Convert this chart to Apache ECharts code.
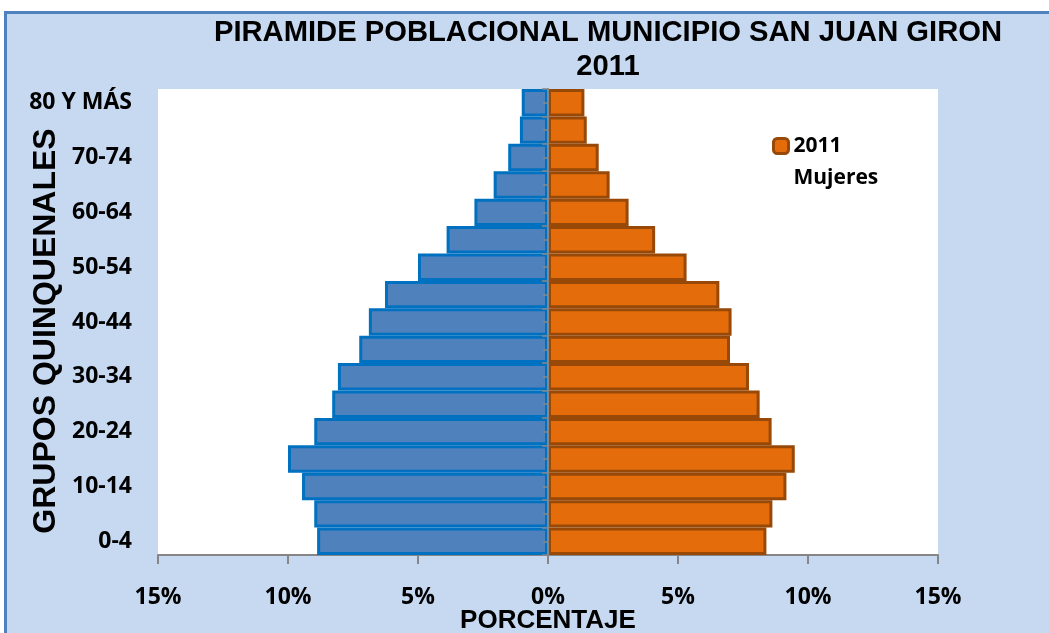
<!DOCTYPE html>
<html>
<head>
<meta charset="utf-8">
<script src="https://cdn.jsdelivr.net/npm/echarts@6/dist/echarts.min.js"></script>
<style>
html,body{margin:0;padding:0;background:#fff;}
#chart{width:1049px;height:633px;}
</style>
</head>
<body>
<div id="chart"></div>
<script>
const categories = ['0-4','5-9','10-14','15-19','20-24','25-29','30-34','35-39','40-44','45-49','50-54','55-59','60-64','65-69','70-74','75-79','80 Y MÁS'];
const hombres = [8.88, 8.99, 9.46, 10.0, 8.99, 8.3, 8.08, 7.26, 6.89, 6.27, 5.0, 3.9, 2.83, 2.09, 1.53, 1.08, 1.01];
const mujeres = [8.4, 8.63, 9.17, 9.49, 8.6, 8.14, 7.73, 7.0, 7.06, 6.59, 5.33, 4.12, 3.1, 2.37, 1.95, 1.49, 1.4];
const xTicks = { min: -15, max: 15, interval: 5 };

const chart = echarts.init(document.getElementById('chart'));
const labelFont = { fontFamily: 'Open Sans', fontWeight: 'bold', fontSize: 23, color: '#000' };
chart.setOption({
  backgroundColor: '#fff',
  animation: false,
  graphic: [{
    type: 'rect', z: -100,
    shape: { x: 5.5, y: 12.5, width: 1100, height: 700 },
    style: { fill: '#C6D9F1', stroke: '#4F81BD', lineWidth: 3 }
  }],
  title: {
    text: 'PIRAMIDE POBLACIONAL MUNICIPIO SAN JUAN GIRON\n2011',
    left: 608, top: 16, padding: 0, textAlign: 'center',
    textStyle: { fontFamily: 'Liberation Sans', fontWeight: 'bold', fontSize: 29.2, lineHeight: 34, color: '#000' }
  },
  legend: {
    data: ['2011 Mujeres'],
    left: 772, top: 98, padding: 0,
    itemWidth: 15, itemHeight: 15,
    itemStyle: { color: '#E46C0A', borderColor: '#984807', borderWidth: 3 },
    formatter: function () { return '\n2011\nMujeres'; },
    textStyle: { fontFamily: 'Open Sans', fontWeight: 'bold', fontSize: 21, lineHeight: 32, color: '#000' }
  },
  grid: { left: 158, right: 111, top: 89, bottom: 78, outerBoundsMode: 'none', containLabel: false, show: true, backgroundColor: '#fff', borderWidth: 0 },
  xAxis: {
    type: 'value', min: xTicks.min, max: xTicks.max, interval: xTicks.interval,
    axisLine: { show: true, lineStyle: { color: '#868686', width: 2 } },
    axisTick: { show: true, length: 9, lineStyle: { color: '#868686', width: 2 } },
    splitLine: { show: false },
    axisLabel: Object.assign({ margin: 31, formatter: v => Math.abs(v) + '%' }, labelFont),
    name: 'PORCENTAJE', nameLocation: 'middle', nameGap: 53, nameMoveOverlap: false,
    nameTextStyle: { fontFamily: 'Liberation Sans', fontWeight: 'bold', fontSize: 26, color: '#000' }
  },
  yAxis: [{
    type: 'category', data: categories,
    axisLine: { show: false }, axisTick: { show: false },
    axisLabel: Object.assign({ interval: 1, margin: 26 }, labelFont),
    name: 'GRUPOS QUINQUENALES', nameLocation: 'middle', nameRotate: 90, nameGap: 96, nameMoveOverlap: false,
    nameTextStyle: { fontFamily: 'Liberation Sans', fontWeight: 'bold', fontSize: 32, color: '#000', padding: [0, 18, 0, 0] }
  }, {
    type: 'category', data: categories, position: 'left', offset: -390, z: 10,
    axisLine: { show: true, lineStyle: { color: '#868686', width: 2 } },
    axisTick: { show: true, interval: 0, length: 6, lineStyle: { color: '#868686', width: 1.5 } },
    axisLabel: { show: false }
  }, {
    type: 'category', data: categories, position: 'left', offset: -390, z: 10,
    axisLine: { show: false },
    axisTick: { show: true, interval: 0, alignWithLabel: true, length: 5, lineStyle: { color: '#868686', width: 1.5 } },
    axisLabel: { show: false }
  }],
  series: [{
    name: 'Hombres', type: 'bar', stack: 'p', barCategoryGap: '0%',
    data: hombres.map(v => -v),
    itemStyle: { color: '#4F81BD', borderColor: '#0070C0', borderWidth: 3 }
  }, {
    name: '2011 Mujeres', type: 'bar', stack: 'p', barCategoryGap: '0%',
    data: mujeres,
    itemStyle: { color: '#E46C0A', borderColor: '#984807', borderWidth: 3 }
  }]
});
</script>
</body>
</html>
